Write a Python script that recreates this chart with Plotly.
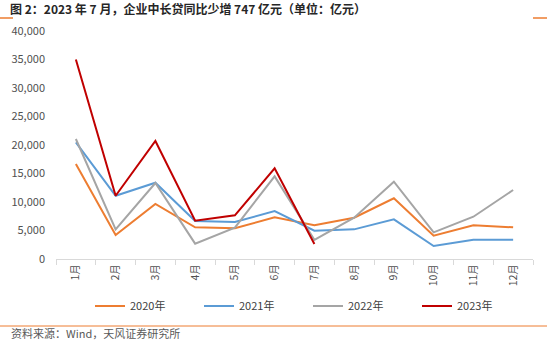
import plotly.graph_objects as go

months = ["1月", "2月", "3月", "4月", "5月", "6月", "7月", "8月", "9月", "10月", "11月", "12月"]
y2020 = [16660, 4210, 9650, 5560, 5380, 7310, 5910, 7250, 10650, 4090, 5910, 5560]
y2021 = [20470, 11100, 13390, 6660, 6490, 8420, 4970, 5200, 6960, 2280, 3390, 3390]
y2022 = [21050, 5200, 13330, 2690, 5500, 14500, 3369, 7250, 13560, 4680, 7420, 12100]
y2023 = [35000, 11100, 20700, 6720, 7660, 15900, 2622]

series = [
    ("2020年", y2020, "#ED7D31"),
    ("2021年", y2021, "#5B9BD5"),
    ("2022年", y2022, "#A5A5A5"),
    ("2023年", y2023, "#C00000"),
]

FONT = "Noto Sans CJK SC"

fig = go.Figure()
for name, vals, color in series:
    fig.add_trace(go.Scatter(
        x=months[:len(vals)], y=vals, name=name, mode="lines",
        line=dict(color=color, width=2),
    ))

W, H = 547, 340
L, R, T, B = 56, 14, 31, 81
PW, PH = W - L - R, H - T - B

fig.update_layout(
    width=W, height=H,
    margin=dict(l=L, r=R, t=T, b=B, autoexpand=False),
    paper_bgcolor="white", plot_bgcolor="white",
    font=dict(family=FONT, size=11, color="#404040"),
    showlegend=True,
    legend=dict(
        orientation="h", xref="container", yref="container",
        x=90 / W, xanchor="left", y=1 - 306 / H, yanchor="middle",
        entrywidth=64, entrywidthmode="pixels",
        font=dict(family=FONT, size=11, color="#404040"),
        bgcolor="rgba(0,0,0,0)", itemwidth=30,
    ),
    xaxis=dict(
        type="category", categoryarray=months,
        range=[-0.5, 11.5], automargin=False,
        showline=True, linecolor="#D9D9D9", linewidth=1,
        ticks="outside", tickson="boundaries", ticklen=5, tickcolor="#D9D9D9",
        tickangle=-90, showgrid=False, zeroline=False,
        tickfont=dict(family=FONT, size=10.5, color="#505050"),
    ),
    yaxis=dict(
        range=[0, 40000], tickvals=[0, 5000, 10000, 15000, 20000, 25000, 30000, 35000, 40000],
        tickformat=",d", showgrid=False, zeroline=False, showline=False,
        ticks="", ticklabelstandoff=10, automargin=False,
        tickfont=dict(family=FONT, size=11, color="#505050"),
    ),
)

def xp(v):
    return (v - L) / PW

def yp(v):
    return (H - B - v) / PH

# Title line
fig.add_annotation(
    xref="paper", yref="paper", x=xp(8), y=yp(9),
    xanchor="left", yanchor="middle", showarrow=False,
    text="<b>图 2：2023 年 7 月，企业中长贷同比少增 747 亿元（单位：亿元）</b>",
    font=dict(family=FONT, size=12, color="#262626"),
)

# Orange rules: short ticks under the title, full rule above the source
for x0, x1 in [(0, 13), (533, 547)]:
    fig.add_shape(type="line", xref="paper", yref="paper",
                  x0=xp(x0), x1=xp(x1), y0=yp(18), y1=yp(18),
                  line=dict(color="#ED7D31", width=1.5))
fig.add_shape(type="line", xref="paper", yref="paper",
              x0=xp(0), x1=xp(W), y0=yp(326), y1=yp(326),
              line=dict(color="#ED7D31", width=1))

# Source
fig.add_annotation(
    xref="paper", yref="paper", x=xp(9), y=yp(333),
    xanchor="left", yanchor="middle", showarrow=False,
    text="资料来源：Wind，天风证券研究所",
    font=dict(family=FONT, size=11, color="#595959"),
)

fig.write_html("out.html")
